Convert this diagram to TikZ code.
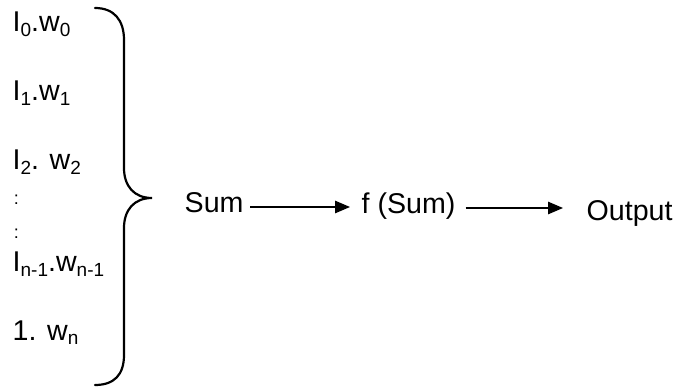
\documentclass[tikz,border=0pt]{standalone}
\usepackage{fontspec}
\setmainfont{Liberation Sans}
\usetikzlibrary{arrows.meta}
% lowered subscript in the term labels
\newcommand\lowsub[1]{\raisebox{-4.5pt}{\fontsize{19}{19}\selectfont #1}}
\tikzset{
  term/.style={anchor=base west, inner sep=0pt, font=\fontsize{28.6}{34}\selectfont},
  dots/.style={anchor=center, inner sep=0pt, font=\fontsize{18}{20}\selectfont},
  stage/.style={anchor=base west, inner sep=0pt, text height=20pt, text depth=8pt,
                font=\fontsize{28.6}{34}\selectfont},
  flow/.style={line width=1.3pt, -{Triangle[length=15pt,width=12.5pt]}},
  brace/.style={line width=2.2pt, line cap=round}
}
\begin{document}
\begin{tikzpicture}[x=1pt,y=-1pt]
\useasboundingbox (0,0) rectangle (677,387);

% weighted inputs
\node[term] (t0) at (12.5,32)  {I\lowsub{0}.w\lowsub{0}};
\node[term] (t1) at (12.5,101) {I\lowsub{1}.w\lowsub{1}};
\node[term] (t2) at (12.5,170) {I\lowsub{2}. w\lowsub{2}};
\node[dots] (d1) at (16.5,200) {:};
\node[dots] (d2) at (16.5,234) {:};
\node[term] (t3) at (12.5,272) {I\lowsub{n-1}.w\lowsub{n-1}};
\node[term] (t4) at (12.5,340) {1. w\lowsub{n}};

% right curly brace gathering the terms
\draw[brace] (95,8) .. controls (114,8) and (124,20) .. (124,40)
  -- (124,168) .. controls (124,186) and (134,198) .. (152,198)
  .. controls (134,198) and (124,210) .. (124,228)
  -- (124,355) .. controls (124,375) and (114,385) .. (95,385);

% processing chain
\node[stage] (sum) at (184.5,213) {Sum};
\node[stage] (fs)  at (361.5,214) {f (Sum)};
\node[stage] (out) at (586.5,221) {Output};

\draw[flow, shorten <=6.5pt, shorten >=11.5pt] (sum.east) -- (sum.east -| fs.west);
\draw[flow, shorten <=10pt, shorten >=23.5pt] (fs.east) -- (fs.east -| out.west);
\end{tikzpicture}
\end{document}
